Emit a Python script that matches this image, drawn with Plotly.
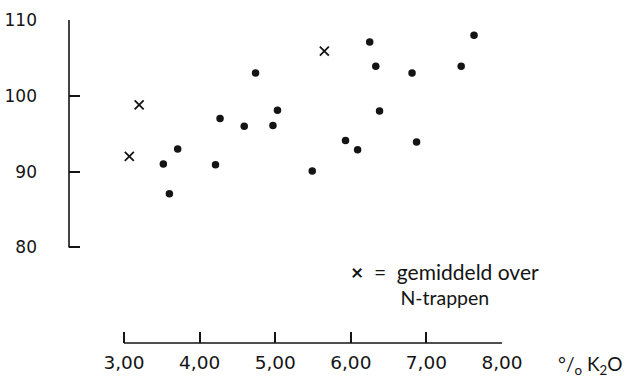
import plotly.graph_objects as go

# Data
dots_x = [3.52, 3.60, 3.71, 4.21, 4.27, 4.59, 4.74, 4.97, 5.03, 5.49,
          5.93, 6.09, 6.25, 6.33, 6.38, 6.81, 6.87, 7.46, 7.63]
dots_y = [91.0, 87.1, 93.0, 90.9, 97.0, 96.0, 103.0, 96.1, 98.1, 90.1,
          94.1, 92.9, 107.1, 103.9, 98.0, 103.0, 93.9, 103.9, 108.0]
mean_x = [3.07, 3.20, 5.65]
mean_y = [92.0, 98.8, 105.9]
x_ticks = [3, 4, 5, 6, 7, 8]
y_ticks = [80, 90, 100, 110]

INK = "#141414"
FONT = "Lato"
TICKFONT = "DejaVu Sans"

fig = go.Figure()
fig.add_trace(go.Scatter(x=dots_x, y=dots_y, mode="markers",
                         marker=dict(symbol="circle", size=7.5, color=INK),
                         showlegend=False, cliponaxis=False))
fig.add_trace(go.Scatter(x=mean_x, y=mean_y, mode="markers",
                         marker=dict(symbol="x-thin", size=9, color=INK,
                                     line=dict(width=1.8, color=INK)),
                         showlegend=False, cliponaxis=False))

# axis lines limited to tick extent
fig.add_shape(type="line", xref="x", yref="paper",
              x0=min(x_ticks), x1=max(x_ticks), y0=0, y1=0,
              line=dict(color=INK, width=1.6))
fig.add_shape(type="line", xref="paper", yref="y",
              x0=0, x1=0, y0=min(y_ticks), y1=max(y_ticks),
              line=dict(color=INK, width=1.6))

fig.add_annotation(xref="paper", yref="paper", x=0.869, y=0.183,
                   text=("<span style=\"font-size:21px\"><b>×</b>&nbsp;&nbsp;=&nbsp;&nbsp;gemiddeld over</span>"
                         "<br>N-trappen"),
                   showarrow=False, xanchor="center", yanchor="middle",
                   align="center", font=dict(family=FONT, size=19.5, color=INK))
fig.add_annotation(xref="paper", yref="paper", x=1.204, y=-0.067,
                   text="°/<sub>o</sub> K<sub>2</sub>O",
                   showarrow=False, xanchor="center", yanchor="middle",
                   font=dict(family=FONT, size=19, color=INK))

fig.update_layout(
    width=628, height=378,
    margin=dict(l=69, r=126.3, t=20, b=34.7, autoexpand=False),
    paper_bgcolor="white", plot_bgcolor="white",
    separators=",.",
    font=dict(family=FONT, size=18, color=INK),
    xaxis=dict(range=[2.272, 8.0], tickvals=x_ticks, tickformat=".2f",
               ticks="inside", ticklen=11, tickwidth=1.6, tickcolor=INK,
               showline=False, showgrid=False, zeroline=False,
               ticklabelstandoff=6,
               tickfont=dict(family=TICKFONT, size=18.5)),
    yaxis=dict(range=[67.40, 110], tickvals=y_ticks,
               ticks="inside", ticklen=11, tickwidth=1.6, tickcolor=INK,
               showline=False, showgrid=False, zeroline=False,
               ticklabelstandoff=31,
               tickfont=dict(family=TICKFONT, size=17)),
)

fig.write_html("out.html")
